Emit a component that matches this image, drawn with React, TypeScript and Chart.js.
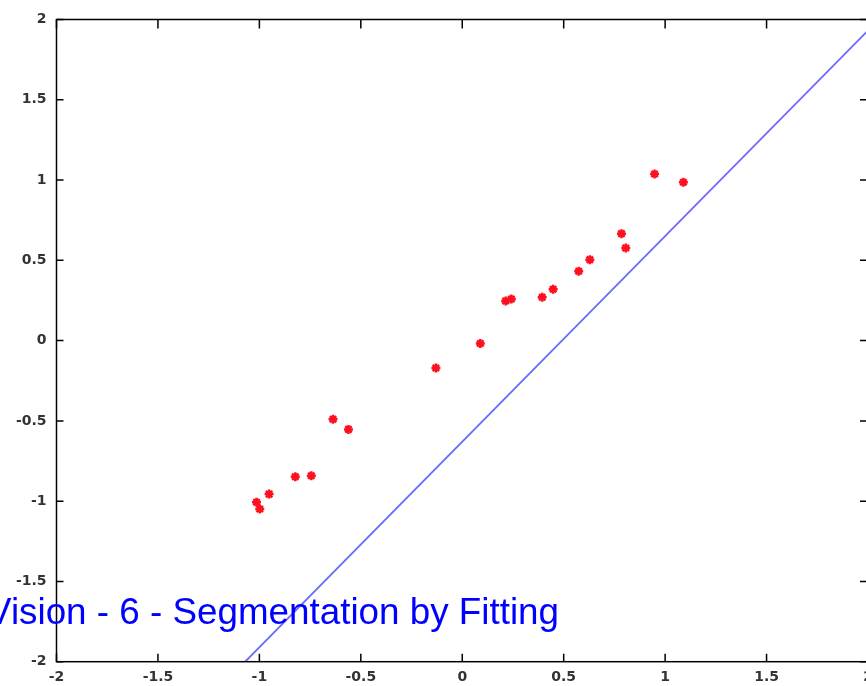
import React, { useEffect, useRef } from "react";
import { Chart, registerables } from "chart.js";

Chart.register(...registerables);

const pointsX = [-1.014, -0.998, -0.952, -0.823, -0.744, -0.637, -0.561, -0.13, 0.089, 0.214, 0.242, 0.394, 0.448, 0.574, 0.629, 0.785, 0.806, 0.948, 1.09];
const pointsY = [-1.007, -1.049, -0.956, -0.848, -0.842, -0.49, -0.553, -0.171, -0.018, 0.247, 0.259, 0.27, 0.32, 0.432, 0.504, 0.666, 0.577, 1.038, 0.986];
const lineX = [-1.07, 2.05];
const lineY = [-2, 1.995];
const xTicks = [-2, -1.5, -1, -0.5, 0, 0.5, 1, 1.5, 2];
const yTicks = [-2, -1.5, -1, -0.5, 0, 0.5, 1, 1.5, 2];
const titleText = "Vision - 6 - Segmentation by Fitting";

const framePlugin = {
  id: "matlabFrame",
  afterDraw(chart: any) {
    const { ctx, chartArea } = chart;
    const { left, right, top, bottom } = chartArea;
    const xs = chart.scales.x;
    const ys = chart.scales.y;
    ctx.save();
    ctx.strokeStyle = "#000";
    ctx.lineWidth = 1.5;
    ctx.strokeRect(left, top, right - left, bottom - top);
    ctx.beginPath();
    xs.ticks.forEach((t: any) => {
      const px = xs.getPixelForValue(t.value);
      ctx.moveTo(px, top);
      ctx.lineTo(px, top + 9);
      ctx.moveTo(px, bottom);
      ctx.lineTo(px, bottom - 8);
    });
    ys.ticks.forEach((t: any) => {
      const py = ys.getPixelForValue(t.value);
      ctx.moveTo(left, py);
      ctx.lineTo(left + 7, py);
      ctx.moveTo(right, py);
      ctx.lineTo(right - 8, py);
    });
    ctx.stroke();
    ctx.restore();
  },
};

export default function App() {
  const ref = useRef<HTMLCanvasElement>(null);
  useEffect(() => {
    if (!ref.current) return;
    const tickFont = { family: "DejaVu Sans", size: 14, weight: "bold" as const };
    const chart = new Chart(ref.current, {
      type: "scatter",
      data: {
        datasets: [
          {
            data: pointsX.map((x, i) => ({ x, y: pointsY[i] })),
            showLine: false,
            pointStyle: "star",
            pointRadius: 4.5,
            borderColor: "#ff1020",
            backgroundColor: "#ff1020",
            pointBorderWidth: 2.5,
          },
          {
            data: lineX.map((x, i) => ({ x, y: lineY[i] })),
            showLine: true,
            pointRadius: 0,
            borderColor: "rgba(80,80,255,0.85)",
            borderWidth: 1.8,
          },
        ],
      },
      options: {
        animation: false,
        responsive: false,
        events: [],
        layout: { padding: { top: 19.5, right: 0, left: 0, bottom: 0 } },
        plugins: { legend: { display: false }, tooltip: { enabled: false } },
        scales: {
          x: {
            type: "linear",
            min: -2,
            max: 2,
            afterBuildTicks: (s: any) => {
              s.ticks = xTicks.map((v) => ({ value: v }));
            },
            afterFit: (s: any) => {
              s.height = 24.3;
              s.paddingLeft = 0;
              s.paddingRight = 0;
            },
            grid: { display: false, drawTicks: false },
            border: { display: false },
            ticks: {
              padding: 7,
              color: "#333",
              font: tickFont,
              maxRotation: 0,
              autoSkip: false,
              callback: (v: any) => String(v),
            },
          },
          y: {
            type: "linear",
            min: -2,
            max: 2,
            afterBuildTicks: (s: any) => {
              s.ticks = yTicks.map((v) => ({ value: v }));
            },
            afterFit: (s: any) => {
              s.width = 56.5;
              s.paddingTop = 0;
              s.paddingBottom = 0;
            },
            grid: { display: false, drawTicks: false },
            border: { display: false },
            ticks: {
              padding: 10,
              color: "#333",
              font: tickFont,
              autoSkip: false,
              callback: (v: any) => String(v),
            },
          },
        },
      },
      plugins: [framePlugin],
    });
    return () => chart.destroy();
  }, []);

  return (
    <div
      style={{
        position: "fixed",
        left: 0,
        top: 0,
        width: 866,
        height: 686,
        overflow: "hidden",
        background: "#fff",
      }}
    >
      <canvas ref={ref} width={875} height={686} style={{ display: "block" }} />
      <div
        style={{
          position: "absolute",
          left: -13,
          top: 594,
          fontFamily: "'Liberation Sans', Arial, sans-serif",
          fontSize: 36.8,
          lineHeight: "36px",
          color: "#0000ff",
          whiteSpace: "nowrap",
        }}
      >
        {titleText}
      </div>
    </div>
  );
}
